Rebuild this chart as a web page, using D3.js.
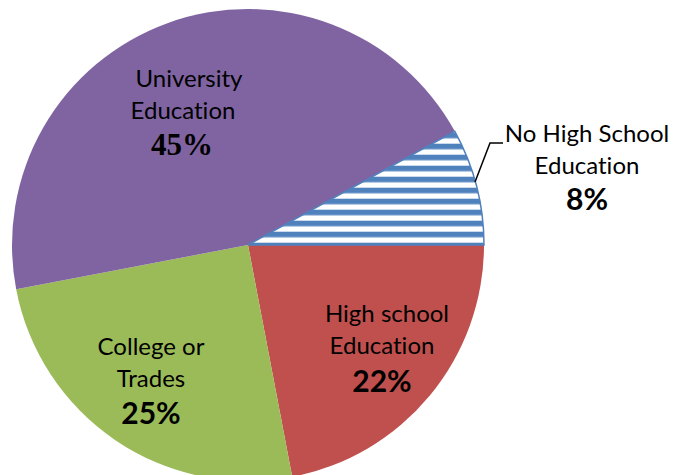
<!DOCTYPE html>
<html>
<head>
<meta charset="utf-8">
<script src="https://cdn.jsdelivr.net/npm/d3@7"></script>
<style>
  body { margin: 0; background: #fff; }
  text { font-variant-ligatures: none; font-feature-settings: "liga" 0; }
</style>
</head>
<body>
<div class="svg-canvas"></div>
<script>
// Education pie, slices clockwise from 3 o'clock
var categories = ["High school Education", "College or Trades", "University Education", "No High School Education"];
var values = [22, 25, 45, 8];
var pctLabels = ["22%", "25%", "45%", "8%"];
var colors = ["#C0504D", "#9BBB59", "#8064A2", "url(#stripes)"];

// label lines per slice (text only, placement below)
var labelLines = [
    ["High school", "Education"],
    ["College or", "Trades"],
    ["University", "Education"],
    ["No High School", "Education"]
];

var ch = {};
ch.width = 673;
ch.height = 475;
ch.cx = 248;
ch.cy = 245;
ch.r = 236;

var svg = d3.select("body").select(".svg-canvas").append("svg")
    .attr("width", ch.width)
    .attr("height", ch.height);

// horizontal stripe pattern for the small slice
var pat = svg.append("defs").append("pattern")
    .attr("id", "stripes")
    .attr("patternUnits", "userSpaceOnUse")
    .attr("x", 0).attr("y", 8.7)
    .attr("width", 20).attr("height", 11);
pat.append("rect").attr("width", 20).attr("height", 11).attr("fill", "#fff");
pat.append("rect").attr("width", 20).attr("height", 5.6).attr("fill", "#4F81BD");

var pie = d3.pie()
    .sort(null)
    .startAngle(Math.PI / 2)
    .endAngle(Math.PI / 2 + 2 * Math.PI);

var arc = d3.arc().innerRadius(0).outerRadius(ch.r);

var g = svg.append("g").attr("transform", "translate(" + ch.cx + "," + ch.cy + ")");

g.selectAll("path")
    .data(pie(values))
    .enter()
    .append("path")
    .attr("d", arc)
    .attr("fill", function(d, i){ return colors[i]; })
    .attr("stroke", function(d, i){ return i == 3 ? "#4F81BD" : "none"; })
    .attr("stroke-width", 1.5);

// label placement: [line1 x, line2 x, pct x, line1 baseline]
var labelPos = [
    [387, 382, 382, 322],
    [151, 151, 151, 355],
    [189, 183, 182, 87],
    [587, 587, 587, 142]
];
var lineGap = 32;
var pctGap = [70, 69, 68, 68];

categories.forEach(function(c, i){
    var p = labelPos[i];
    labelLines[i].forEach(function(t, j){
        svg.append("text")
            .attr("x", p[j])
            .attr("y", p[3] + j * lineGap)
            .attr("text-anchor", "middle")
            .style("font-family", "Lato, 'Open Sans', sans-serif")
            .style("font-size", "24px")
            .attr("fill", "#000")
            .text(t);
    });
    var pct = svg.append("text")
        .attr("x", p[2])
        .attr("y", p[3] + pctGap[i])
        .attr("text-anchor", "middle")
        .attr("font-weight", "bold")
        .attr("fill", "#000")
        .text(pctLabels[i]);
    if (i == 2) {
        // this one is set in a serif face in the original
        pct.attr("font-family", "'Liberation Serif', 'DejaVu Serif', serif")
            .attr("font-size", 31);
    } else {
        pct.attr("font-family", "Lato, sans-serif")
            .attr("font-size", 30);
    }
});

// leader line for the small slice
svg.append("path")
    .attr("d", d3.line()([[475, 182], [490, 143], [503, 143]]))
    .attr("fill", "none")
    .attr("stroke", "#000")
    .attr("stroke-width", 1.5);
</script>
</body>
</html>
